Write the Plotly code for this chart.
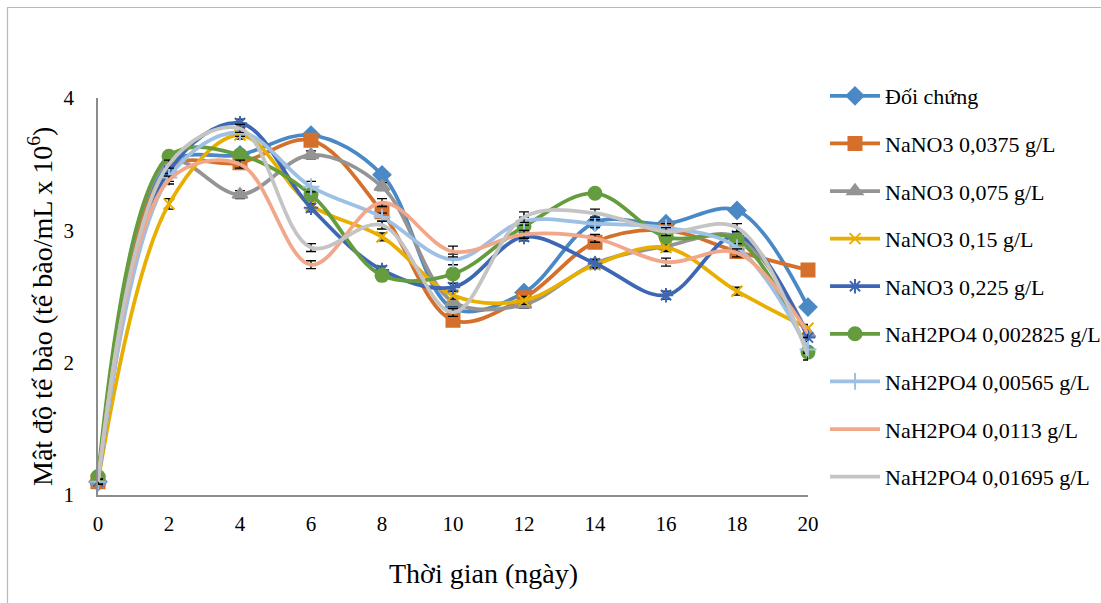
import plotly.graph_objects as go

# Thời gian nuôi cấy (ngày)
days = [0, 2, 4, 6, 8, 10, 12, 14, 16, 18, 20]

# Mật độ tế bào (x10^6 tế bào/mL) cho từng nghiệm thức
doi_chung = [1.10, 3.50, 3.57, 3.72, 3.42, 2.41, 2.53, 3.06, 3.05, 3.15, 2.42]
nano3_0375 = [1.10, 3.47, 3.51, 3.68, 3.14, 2.32, 2.49, 2.91, 3.00, 2.84, 2.70]
nano3_075 = [1.10, 3.52, 3.27, 3.57, 3.33, 2.46, 2.44, 2.75, 2.88, 2.95, 2.22]
nano3_15 = [1.10, 3.20, 3.72, 3.19, 2.95, 2.51, 2.47, 2.74, 2.87, 2.54, 2.26]
nano3_225 = [1.10, 3.45, 3.81, 3.17, 2.70, 2.57, 2.95, 2.75, 2.51, 2.96, 2.19]
nah2po4_002825 = [1.14, 3.56, 3.57, 3.27, 2.66, 2.67, 3.03, 3.28, 2.95, 2.93, 2.08]
nah2po4_00565 = [1.10, 3.40, 3.74, 3.33, 3.10, 2.78, 3.07, 3.05, 3.02, 2.87, 2.10]
nah2po4_0113 = [1.10, 3.38, 3.50, 2.74, 3.21, 2.84, 2.97, 2.94, 2.76, 2.83, 2.22]
nah2po4_01695 = [1.10, 3.50, 3.77, 2.87, 3.04, 2.38, 3.10, 3.13, 2.99, 3.02, 2.05]

# Độ lệch chuẩn
sd_doi_chung = [0.02, 0.03, 0.03, 0.03, 0.03, 0.03, 0.03, 0.03, 0.03, 0.03, 0.03]
sd_nano3_0375 = [0.02, 0.03, 0.03, 0.03, 0.03, 0.03, 0.03, 0.03, 0.03, 0.03, 0.03]
sd_nano3_075 = [0.02, 0.03, 0.03, 0.03, 0.03, 0.03, 0.03, 0.03, 0.03, 0.03, 0.03]
sd_nano3_15 = [0.02, 0.04, 0.03, 0.03, 0.03, 0.03, 0.03, 0.03, 0.03, 0.03, 0.03]
sd_nano3_225 = [0.02, 0.03, 0.03, 0.03, 0.03, 0.03, 0.03, 0.03, 0.03, 0.03, 0.03]
sd_nah2po4_002825 = [0.02, 0.03, 0.03, 0.03, 0.04, 0.03, 0.03, 0.03, 0.03, 0.03, 0.03]
sd_nah2po4_00565 = [0.02, 0.03, 0.03, 0.04, 0.03, 0.04, 0.03, 0.03, 0.03, 0.03, 0.03]
sd_nah2po4_0113 = [0.02, 0.03, 0.03, 0.03, 0.03, 0.04, 0.03, 0.03, 0.03, 0.03, 0.03]
sd_nah2po4_01695 = [0.02, 0.03, 0.03, 0.03, 0.03, 0.03, 0.04, 0.03, 0.03, 0.03, 0.03]

names = [
    "Đối chứng",
    "NaNO3 0,0375 g/L",
    "NaNO3 0,075 g/L",
    "NaNO3 0,15 g/L",
    "NaNO3 0,225 g/L",
    "NaH2PO4 0,002825 g/L",
    "NaH2PO4 0,00565 g/L",
    "NaH2PO4 0,0113 g/L",
    "NaH2PO4 0,01695 g/L",
]
values = [doi_chung, nano3_0375, nano3_075, nano3_15, nano3_225,
          nah2po4_002825, nah2po4_00565, nah2po4_0113, nah2po4_01695]
errors = [sd_doi_chung, sd_nano3_0375, sd_nano3_075, sd_nano3_15, sd_nano3_225,
          sd_nah2po4_002825, sd_nah2po4_00565, sd_nah2po4_0113, sd_nah2po4_01695]
colors = ["#4a89c5", "#d4702b", "#949494", "#e8ae00", "#3d66b4",
          "#649c3e", "#9dc0e4", "#f1a88a", "#c4c4c4"]
symbols = ["diamond", "square", "triangle-up", "x-thin-open", "asterisk-open",
           "circle", "cross-thin-open", None, None]
sizes = [13, 13, 13, 11, 12, 13, 12, 0, 0]

SERIF = "Liberation Serif, Times New Roman, serif"

fig = go.Figure()
for name, y, err, col, sym, sz in zip(names, values, errors, colors, symbols, sizes):
    marker = dict(color=col, size=sz)
    if sym:
        marker["symbol"] = sym
        marker["line"] = dict(color=col, width=2)
    fig.add_trace(go.Scatter(
        x=days, y=y, name=name, legendgroup=name,
        mode="lines+markers" if sym else "lines",
        line=dict(color=col, width=3.75, shape="spline", smoothing=1.0),
        marker=marker,
        error_y=dict(type="data", array=err, visible=True,
                     color="black", thickness=1.3, width=5),
        cliponaxis=False,
    ))

# Khung viền biểu đồ
L, R, T, B = 98, 808, 98, 495
pw, ph = R - L, B - T
fig.add_shape(type="rect", xref="paper", yref="paper",
              x0=(7.5 - L) / pw, x1=(1110 - L) / pw,
              y0=(B - 612) / ph, y1=(B - 7.5) / ph,
              line=dict(color="#b8b8b8", width=1.2), layer="below")

fig.add_annotation(text="Thời gian (ngày)", xref="paper", yref="paper",
                   x=(483 - L) / pw, y=(B - 573) / ph, showarrow=False,
                   xanchor="center", yanchor="middle",
                   font=dict(family=SERIF, size=28, color="black"))
fig.add_annotation(text="Mật độ tế bào (tế bào/mL x 10<sup>6</sup>)",
                   xref="paper", yref="paper", textangle=-90,
                   x=(40 - L) / pw, y=(B - 307) / ph, showarrow=False,
                   xanchor="center", yanchor="middle",
                   font=dict(family=SERIF, size=28, color="black"))

fig.update_layout(
    width=1101, height=603,
    margin=dict(l=L, r=1101 - R, t=T, b=603 - B, autoexpand=False),
    paper_bgcolor="white", plot_bgcolor="white",
    showlegend=True,
    legend=dict(x=(825 - L) / pw, y=(B - 75) / ph, xanchor="left", yanchor="top",
                font=dict(family=SERIF, size=22, color="black"),
                tracegroupgap=16, itemwidth=50, maxheight=590,
                bgcolor="rgba(0,0,0,0)"),
    xaxis=dict(range=[0, 20], tickvals=days, ticktext=[str(d) for d in days],
               showline=True, linecolor="#8c8c8c", linewidth=1.5,
               showgrid=False, zeroline=False, ticks="",
               ticklabelstandoff=9,
               tickfont=dict(family=SERIF, size=21, color="black")),
    yaxis=dict(range=[1, 4], tickvals=[1, 2, 3, 4],
               showline=True, linecolor="#8c8c8c", linewidth=1.5,
               showgrid=False, zeroline=False, ticks="",
               ticklabelstandoff=18,
               tickfont=dict(family=SERIF, size=21, color="black")),
)

fig.write_html("out.html")
